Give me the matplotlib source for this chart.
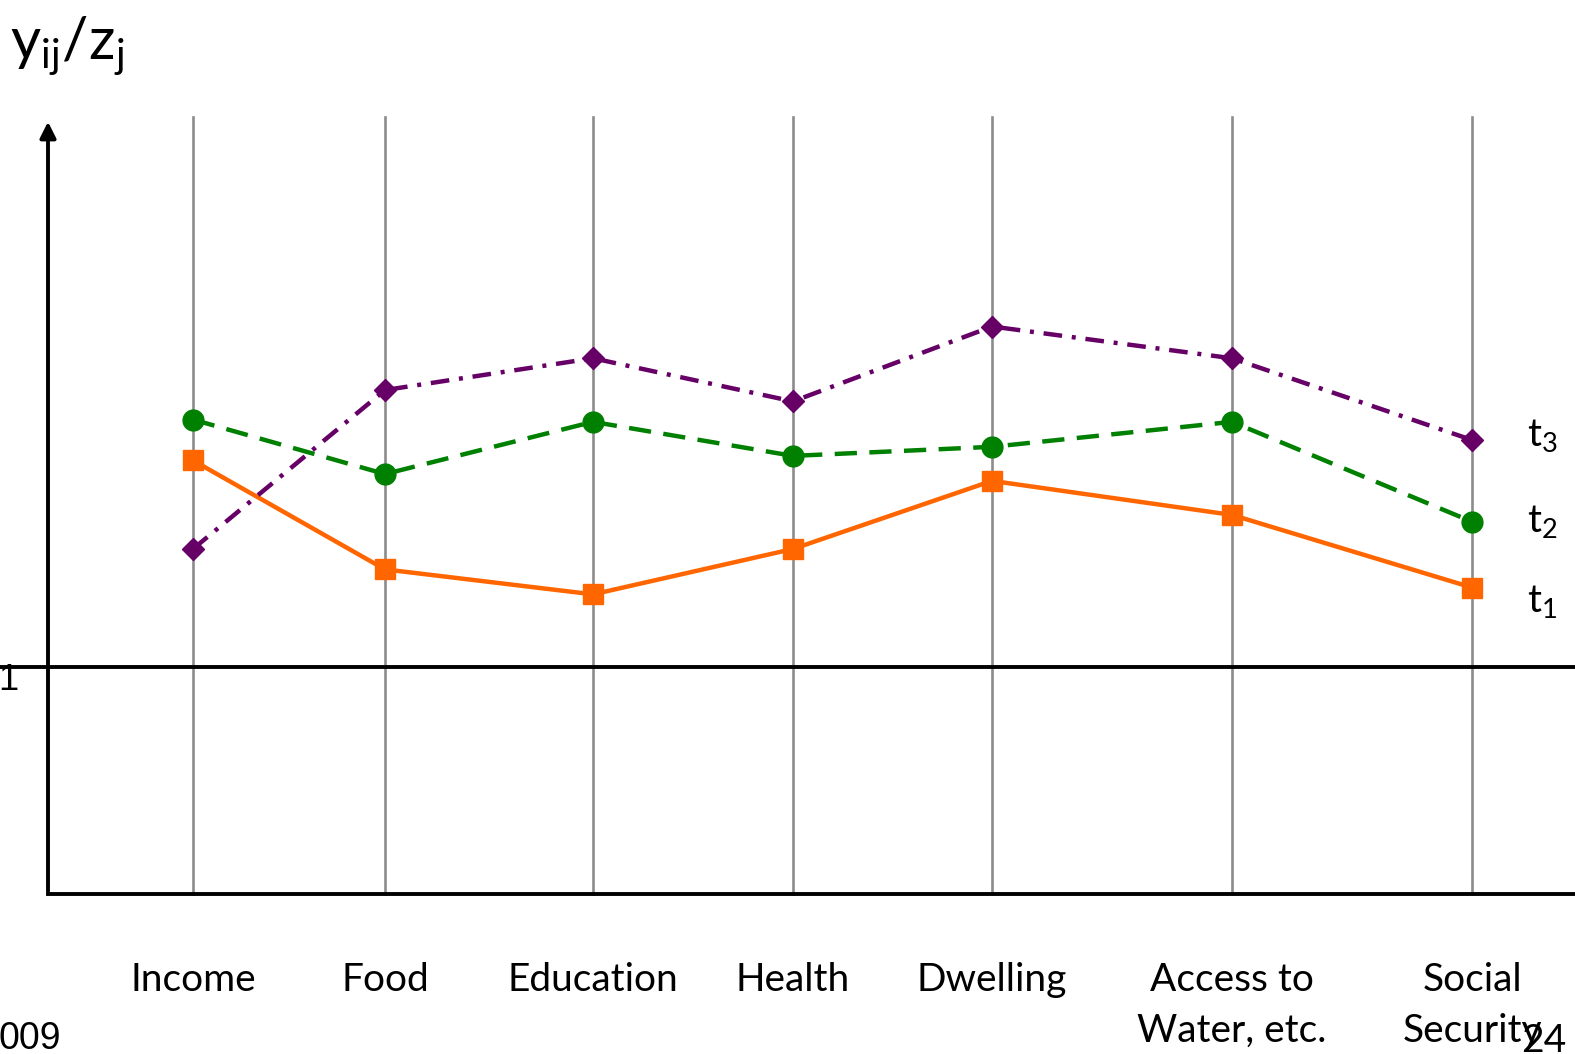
import matplotlib.pyplot as plt

# Kategorier og verdier (y_ij / z_j)
categories = ["Income", "Food", "Education", "Health", "Dwelling",
              "Access to\nWater, etc.", "Social\nSecurity"]
x_pos = [193, 385, 593, 793, 992, 1232, 1472]
t1 = [1.91, 1.43, 1.32, 1.52, 1.82, 1.67, 1.35]
t2 = [2.09, 1.85, 2.08, 1.93, 1.97, 2.08, 1.64]
t3 = [1.52, 2.22, 2.36, 2.17, 2.50, 2.36, 2.00]
series_labels = ["$\\mathregular{t_1}$", "$\\mathregular{t_2}$", "$\\mathregular{t_3}$"]

plt.rcParams['font.family'] = ['Lato', 'DejaVu Sans']
plt.rcParams['mathtext.fontset'] = 'custom'
plt.rcParams['mathtext.rm'] = 'Lato'

# pikselomregning: y=0 ved piksel 894, 227 piksler per enhet
Y0, PX = 894, 227
def py(p):
    return (Y0 - p) / PX

fig = plt.figure(figsize=(15.75, 10.54), dpi=100)
ax = fig.add_axes([0, 0, 1, 1])
ax.set_xlim(0, 1575)
ax.set_ylim(py(1054), py(0))
ax.axis("off")

# Vertikale hjelpelinjer
for x in x_pos:
    ax.plot([x, x], [0, py(117)], color="#8c8c8c", lw=1.9, zorder=1)

# Akser
ax.plot([48, 1575], [0, 0], color="black", lw=2.8, zorder=2)
ax.annotate("", xy=(48, py(119)), xytext=(48, 0),
            arrowprops=dict(arrowstyle="-|>", color="black", lw=2.8,
                            mutation_scale=24))
ax.plot([0, 1575], [1, 1], color="black", lw=2.8, zorder=2)
ax.text(8, py(681), "1", fontsize=26, ha="center", va="center",
        family="Liberation Sans")

# Seriene
ax.plot(x_pos, t1, color="#FF6600", lw=3.2, marker="s", markersize=15, zorder=4)
ax.plot(x_pos, t2, color="#008000", lw=3.2, marker="o", markersize=15,
        dashes=(5, 2.8), zorder=4)
ax.plot(x_pos, t3, color="#660066", lw=3.2, marker="D", markersize=11,
        dashes=(4.2, 2.2, 0.9, 2.2), zorder=4)

for vals, lab, dy in zip([t1, t2, t3], series_labels, [-0.06, 0.0, 0.02]):
    ax.text(1527, vals[-1] + dy, lab, fontsize=28, ha="left", va="center")

# Kategorietiketter
for x, c in zip(x_pos, categories):
    for k, line in enumerate(c.split("\n")):
        ax.text(x, py(980 + 51 * k), line, fontsize=28,
                ha="center", va="center")

# Aksetittel og sidetekst
ax.text(10, py(46), "$\\mathregular{y_{ij}/z_j}$", fontsize=42,
        ha="left", va="center")
ax.text(-2, py(1039), "009", fontsize=27, ha="left", va="center",
        family="Liberation Sans")
ax.text(1544, py(1041), "24", fontsize=28, ha="center", va="center")

fig.savefig("out.png")
